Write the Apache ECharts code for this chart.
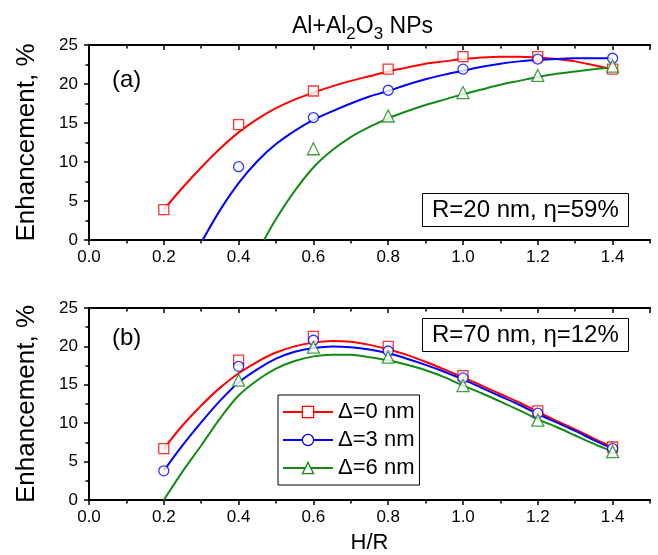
<!DOCTYPE html>
<html><head><meta charset="utf-8">
<script src="https://cdn.jsdelivr.net/npm/echarts@6/dist/echarts.min.js"></script>
<style>html,body{margin:0;padding:0;background:#fff}#c{width:658px;height:555px}</style>
</head><body><div id="c"></div>
<script>
const FONT = '"Liberation Sans", Arial, sans-serif';
const RED = '#ff0000', BLUE = '#0000ff', GREEN = '#138a13';

// measured points (markers)
const markX = [0.2, 0.4, 0.6, 0.8, 1.0, 1.2, 1.4];
const aMarkD0 = [3.9, 14.8, 19.1, 21.9, 23.5, 23.5, 21.9];
const aMarkD3 = [null, 9.4, 15.7, 19.2, 21.9, 23.2, 23.3];
const aMarkD6 = [null, null, 11.7, 15.9, 18.9, 21.1, 22.3];
const bMarkD0 = [6.7, 18.2, 21.3, 20.0, 16.2, 11.6, 6.9];
const bMarkD3 = [3.8, 17.4, 20.8, 19.4, 15.9, 11.3, 6.7];
const bMarkD6 = [null, 15.6, 19.9, 18.6, 14.9, 10.4, 6.3];

// fitted curves, panel (a)
const aFitD0X = [0.2, 0.25, 0.3, 0.35, 0.4, 0.45, 0.5, 0.55, 0.6, 0.65, 0.7, 0.75, 0.8, 0.85, 0.9, 0.95, 1.0, 1.05, 1.1, 1.15, 1.2, 1.25, 1.3, 1.35, 1.4];
const aFitD0Y = [3.9, 6.7, 9.3, 11.7, 13.8, 15.5, 16.9, 18.0, 18.9, 19.7, 20.4, 21.0, 21.6, 22.1, 22.6, 22.9, 23.2, 23.4, 23.5, 23.5, 23.4, 23.2, 22.9, 22.4, 21.9];
const aFitD3X = [0.304, 0.35, 0.4, 0.45, 0.5, 0.55, 0.6, 0.65, 0.7, 0.75, 0.8, 0.85, 0.9, 0.95, 1.0, 1.05, 1.1, 1.15, 1.2, 1.25, 1.3, 1.35, 1.4];
const aFitD3Y = [0, 3.8, 7.3, 10.1, 12.3, 14.0, 15.4, 16.5, 17.5, 18.4, 19.1, 19.9, 20.6, 21.2, 21.7, 22.2, 22.6, 22.9, 23.1, 23.2, 23.3, 23.3, 23.3];
const aFitD6X = [0.468, 0.5, 0.55, 0.6, 0.65, 0.7, 0.75, 0.8, 0.85, 0.9, 0.95, 1.0, 1.05, 1.1, 1.15, 1.2, 1.25, 1.3, 1.35, 1.4];
const aFitD6Y = [0, 2.7, 6.3, 9.3, 11.5, 13.2, 14.5, 15.6, 16.5, 17.3, 18.0, 18.7, 19.3, 19.9, 20.4, 20.9, 21.3, 21.6, 21.9, 22.1];

// fitted curves, panel (b)
const bFitX = [0.2, 0.25, 0.3, 0.35, 0.4, 0.45, 0.5, 0.55, 0.6, 0.65, 0.7, 0.75, 0.8, 0.85, 0.9, 0.95, 1.0, 1.05, 1.1, 1.15, 1.2, 1.25, 1.3, 1.35, 1.4];
const bFitD0 = [6.7, 9.7, 12.3, 14.6, 16.5, 18.0, 19.2, 20.0, 20.5, 20.7, 20.6, 20.2, 19.6, 18.9, 18.0, 17.0, 16.0, 14.9, 13.8, 12.7, 11.5, 10.3, 9.2, 8.0, 6.9];
const bFitD3 = [3.8, 7.1, 10.1, 12.9, 15.3, 17.0, 18.4, 19.3, 19.8, 20.0, 19.9, 19.6, 19.1, 18.4, 17.6, 16.7, 15.7, 14.6, 13.5, 12.4, 11.2, 10.1, 9.0, 7.8, 6.7];
const bFitD6 = [0, 3.7, 7.1, 10.6, 13.6, 15.6, 17.1, 18.1, 18.7, 18.9, 18.9, 18.6, 18.2, 17.6, 16.9, 16.0, 14.9, 13.9, 12.8, 11.7, 10.5, 9.5, 8.4, 7.3, 6.3];

const legendNames = ['Δ=0 nm', 'Δ=3 nm', 'Δ=6 nm'];
const xTickLabels = ['0.0', '0.2', '0.4', '0.6', '0.8', '1.0', '1.2', '1.4'];

function pairs(xs, ys) {
  const out = [];
  xs.forEach((x, i) => { if (ys[i] !== null && ys[i] !== undefined) out.push([x, ys[i]]); });
  return out;
}

const tickLine = { color: '#000', width: 1.5 };
const axLine = { show: true, lineStyle: { color: '#000', width: 2 } };

function xAx(grid, pos, interval, len, labels, name) {
  return {
    type: 'value', gridIndex: grid, position: pos, min: 0, max: 1.5, interval: interval,
    axisLine: axLine,
    axisTick: { show: true, length: len, inside: pos === 'top', lineStyle: tickLine },
    axisLabel: labels ? {
      show: true, fontSize: 17, fontFamily: FONT, color: '#000', margin: 9,
      showMaxLabel: false,
      formatter: v => { const i = Math.round(v / 0.2); return Math.abs(v - i * 0.2) < 1e-6 ? xTickLabels[i] : ''; }
    } : { show: false },
    splitLine: { show: false },
    name: name || '', nameLocation: 'middle', nameGap: 32,
    nameTextStyle: { fontSize: 22, fontFamily: FONT, color: '#000' }
  };
}
function yAx(grid, pos) {
  const left = pos === 'left';
  return {
    type: 'value', gridIndex: grid, position: pos, min: 0, max: 25, interval: 5,
    axisLine: axLine,
    axisTick: { show: true, length: 5, inside: !left, lineStyle: tickLine },
    minorTick: { show: true, splitNumber: 2, length: 3.5, lineStyle: tickLine },
    axisLabel: left ? { show: true, fontSize: 17, fontFamily: FONT, color: '#000', margin: 11 } : { show: false },
    splitLine: { show: false }, minorSplitLine: { show: false },
    name: left ? 'Enhancement, %' : '', nameLocation: 'middle', nameGap: 49,
    nameTextStyle: { fontSize: 26, fontFamily: FONT, color: '#000' }
  };
}

function fitSeries(name, data, col, sym, xi, yi) {
  return {
    type: 'line', name: name, data: data, xAxisIndex: xi, yAxisIndex: yi,
    smooth: 0.3, showSymbol: false, symbol: sym, symbolSize: 10,
    lineStyle: { color: col, width: 2 },
    itemStyle: { color: '#fff', borderColor: col, borderWidth: 1.3 },
    emphasis: { disabled: true }, z: 3, silent: true
  };
}
function markSeries(name, data, col, sym, xi, yi) {
  return {
    type: 'scatter', name: name, data: data, xAxisIndex: xi, yAxisIndex: yi,
    symbol: sym, symbolSize: sym === 'triangle' ? 12 : 10,
    itemStyle: { color: '#fff', borderColor: col, borderWidth: 1.3 },
    emphasis: { disabled: true }, z: 5, silent: true
  };
}

const legendCols = [RED, BLUE, GREEN];
const option = {
  animation: false,
  backgroundColor: '#fff',
  textStyle: { fontFamily: FONT },
  title: [
    {
      text: '{n|Al+Al}{s|2}{n|O}{s|3}{n| NPs}', left: 287, top: 10,
      textStyle: {
        rich: {
          n: { fontSize: 23, fontWeight: 'normal', fontFamily: FONT, color: '#000', lineHeight: 24, verticalAlign: 'top' },
          s: { fontSize: 17, fontWeight: 'normal', fontFamily: FONT, color: '#000', lineHeight: 17, padding: [11, 0, 0, 0], verticalAlign: 'top' }
        }
      }
    },
    { text: '(a)', left: 107, top: 62, textStyle: { fontSize: 24, fontWeight: 'normal', fontFamily: FONT, color: '#000', lineHeight: 26 } },
    { text: '(b)', left: 107, top: 320, textStyle: { fontSize: 24, fontWeight: 'normal', fontFamily: FONT, color: '#000', lineHeight: 26 } },
    { text: 'R=20 nm, η=59%', left: 422, top: 193, padding: [4, 10], borderColor: '#000', borderWidth: 1,
      textStyle: { fontSize: 24, fontWeight: 'normal', fontFamily: FONT, color: '#000', lineHeight: 26 } },
    { text: 'R=70 nm, η=12%', left: 422, top: 318, padding: [4, 10], borderColor: '#000', borderWidth: 1,
      textStyle: { fontSize: 24, fontWeight: 'normal', fontFamily: FONT, color: '#000', lineHeight: 26 } }
  ],
  legend: {
    data: legendNames.map((n, i) => ({ name: n, itemStyle: { color: '#fff', borderColor: legendCols[i], borderWidth: 1.3 } })),
    orient: 'vertical', left: 278, top: 395,
    padding: [6, 5, 6, 4], itemGap: 6, itemWidth: 50, itemHeight: 14,
    selectedMode: false, backgroundColor: '#fff', borderColor: '#000', borderWidth: 1,
    textStyle: { fontSize: 22, fontFamily: FONT, color: '#000' }
  },
  grid: [
    { left: 89, top: 45, width: 561, height: 195 },
    { left: 89, top: 308, width: 561, height: 194 }
  ],
  xAxis: [
    xAx(0, 'bottom', 0.2, 5, true), xAx(0, 'bottom', 0.1, 3.5, false),
    xAx(0, 'top', 0.2, 5, false), xAx(0, 'top', 0.1, 3.5, false),
    xAx(1, 'bottom', 0.2, 5, true, 'H/R'), xAx(1, 'bottom', 0.1, 3.5, false),
    xAx(1, 'top', 0.2, 5, false), xAx(1, 'top', 0.1, 3.5, false)
  ],
  yAxis: [yAx(0, 'left'), yAx(0, 'right'), yAx(1, 'left'), yAx(1, 'right')],
  series: [
    fitSeries('a0', pairs(aFitD0X, aFitD0Y), RED, 'rect', 0, 0),
    fitSeries('a3', pairs(aFitD3X, aFitD3Y), BLUE, 'circle', 0, 0),
    fitSeries('a6', pairs(aFitD6X, aFitD6Y), GREEN, 'triangle', 0, 0),
    markSeries('am0', pairs(markX, aMarkD0), RED, 'rect', 0, 0),
    markSeries('am3', pairs(markX, aMarkD3), BLUE, 'circle', 0, 0),
    markSeries('am6', pairs(markX, aMarkD6), GREEN, 'triangle', 0, 0),
    fitSeries(legendNames[0], pairs(bFitX, bFitD0), RED, 'rect', 4, 2),
    fitSeries(legendNames[1], pairs(bFitX, bFitD3), BLUE, 'circle', 4, 2),
    fitSeries(legendNames[2], pairs(bFitX, bFitD6), GREEN, 'triangle', 4, 2),
    markSeries('bm0', pairs(markX, bMarkD0), RED, 'rect', 4, 2),
    markSeries('bm3', pairs(markX, bMarkD3), BLUE, 'circle', 4, 2),
    markSeries('bm6', pairs(markX, bMarkD6), GREEN, 'triangle', 4, 2)
  ]
};
const chart = echarts.init(document.getElementById('c'), null, { renderer: 'canvas' });
chart.setOption(option);
</script></body></html>
